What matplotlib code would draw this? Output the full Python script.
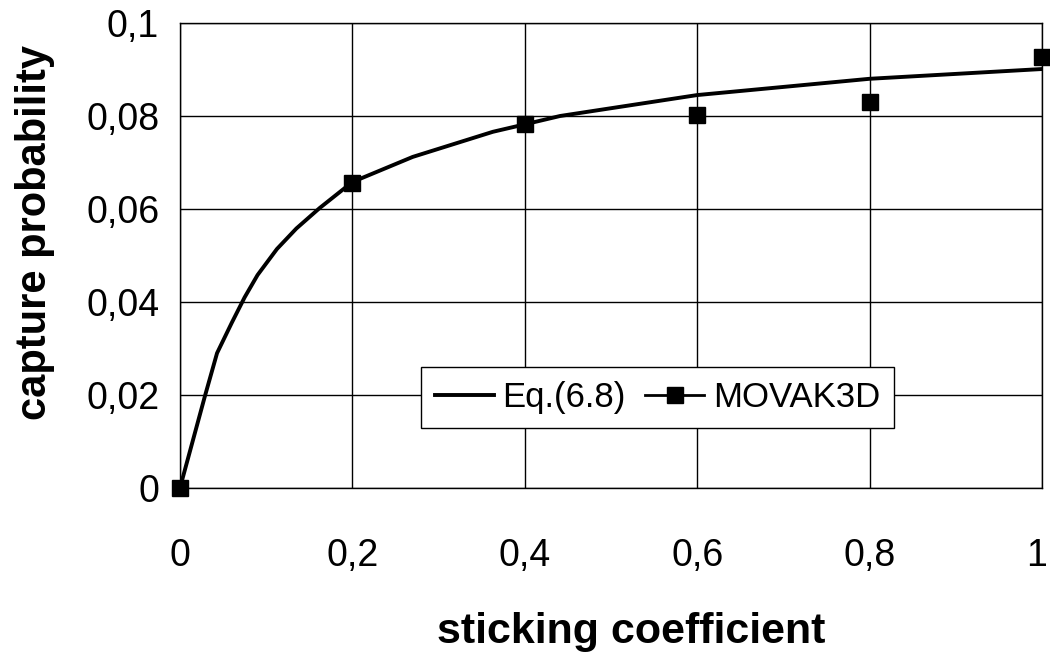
# capture probability vs sticking coefficient

import matplotlib.pyplot as plt
import matplotlib.transforms as mtransforms
from matplotlib.lines import Line2D
from matplotlib.ticker import FuncFormatter

plt.rcParams['font.family'] = ['Liberation Sans', 'DejaVu Sans']

# Eq.(6.8) curve, points
eq_x = [0, 0.029, 0.043, 0.06, 0.075, 0.09, 0.1125, 0.135, 0.162, 0.2, 0.27, 0.363, 0.4, 0.441, 0.6, 0.8, 1.0]
eq_y = [0, 0.0198, 0.029, 0.0355, 0.0410, 0.0458, 0.0514, 0.0558, 0.0602, 0.0658, 0.0712, 0.0766, 0.0782, 0.080, 0.0845, 0.0880, 0.0901]

# MOVAK3D simulation results
movak_x = [0, 0.2, 0.4, 0.6, 0.8, 1.0]
movak_y = [0, 0.0656, 0.0783, 0.0802, 0.0830, 0.0927]

fig = plt.figure(figsize=(10.5, 6.53), dpi=100)
ax = fig.add_axes([0.1714, 0.2527, 0.821, 0.7121])

ax.plot(eq_x, eq_y, color='black', lw=2.8)
ax.plot(movak_x, movak_y, ls='none', marker='s', ms=12, color='black', clip_on=False, zorder=5)

ax.set_xlim(0, 1)
ax.set_ylim(0, 0.1)
ax.set_xticks([0, 0.2, 0.4, 0.6, 0.8, 1.0])
ax.set_yticks([0, 0.02, 0.04, 0.06, 0.08, 0.1])
comma = FuncFormatter(lambda v, p: ('%g' % round(v, 3)).replace('.', ','))
ax.xaxis.set_major_formatter(comma)
ax.yaxis.set_major_formatter(comma)
ax.tick_params(axis='x', length=0, pad=36, labelsize=27)
ax.tick_params(axis='y', length=0, pad=15, labelsize=27)
ax.grid(True, color='black', lw=1)
for s in ax.spines.values():
    s.set_linewidth(1)

# nudge the "1" label left a little so it stays inside the picture
last = ax.xaxis.get_major_ticks()[-1].label1
last.set_transform(last.get_transform() + mtransforms.ScaledTranslation(-0.05, 0, fig.dpi_scale_trans))

ax.set_xlabel('sticking coefficient', fontsize=31, fontweight='bold')
ax.set_ylabel('capture probability', fontsize=30, fontweight='bold')
ax.xaxis.set_label_coords(0.524, -0.267)
ax.yaxis.set_label_coords(-0.145, 0.55)

handles = [Line2D([], [], color='black', lw=2.8),
           Line2D([], [], color='black', lw=2, marker='s', ms=11)]
leg = ax.legend(handles, ['Eq.(6.8)', 'MOVAK3D'], ncol=2, fontsize=25, loc='lower left',
                bbox_to_anchor=(0.2796, 0.129), fancybox=False, framealpha=1,
                edgecolor='black', handlelength=1.7, handletextpad=0.25, columnspacing=0.55,
                borderpad=0.4, borderaxespad=0)
leg.get_frame().set_linewidth(1)

plt.savefig('out.png', dpi=100)
